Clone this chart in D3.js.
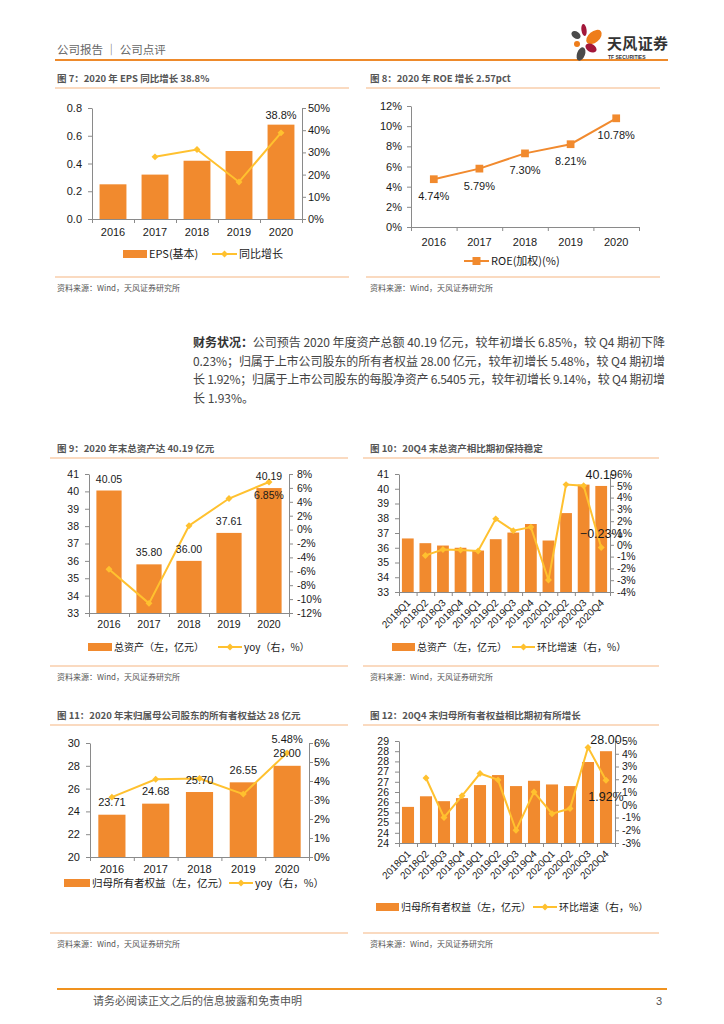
<!DOCTYPE html>
<html>
<head>
<meta charset="utf-8">
<script src="https://cdn.jsdelivr.net/npm/d3@7"></script>
<style>
  body { margin: 0; background: #fff; }
  svg { display: block; }
  text { font-family: "Liberation Sans", Arial, "Noto Sans CJK SC", sans-serif; }
  .cn { font-family: "Noto Sans CJK SC", "Liberation Sans", sans-serif; }
</style>
</head>
<body>
<svg id="page" width="724" height="1024"></svg>
<script>
// ---- data ----
const years = ["2016", "2017", "2018", "2019", "2020"];
const quarters = ["2018Q1", "2018Q2", "2018Q3", "2018Q4", "2019Q1", "2019Q2",
  "2019Q3", "2019Q4", "2020Q1", "2020Q2", "2020Q3", "2020Q4"];

// fig 7
const epsBasic = [0.25, 0.32, 0.42, 0.49, 0.68];
const epsYoy = [null, 28.0, 31.3, 16.7, 38.8];
const epsTicks = [0, 0.2, 0.4, 0.6, 0.8];
const epsTickLabels = ["0.0", "0.2", "0.4", "0.6", "0.8"];
const epsYoyTicks = [0, 10, 20, 30, 40, 50];
const epsYoyTickLabels = ["0%", "10%", "20%", "30%", "40%", "50%"];

// fig 8
const roeWeighted = [4.74, 5.79, 7.30, 8.21, 10.78];
const roeTicks = [0, 2, 4, 6, 8, 10, 12];
const roeTickLabels = ["0%", "2%", "4%", "6%", "8%", "10%", "12%"];

// fig 9
const assetsYear = [40.05, 35.80, 36.00, 37.61, 40.19];
const assetsYoy = [-5.7, -10.61, 0.56, 4.47, 6.85];
const assetsTicks = [33, 34, 35, 36, 37, 38, 39, 40, 41];
const assetsTickLabels = ["33", "34", "35", "36", "37", "38", "39", "40", "41"];
const assetsYoyTicks = [-12, -10, -8, -6, -4, -2, 0, 2, 4, 6, 8];
const assetsYoyTickLabels = ["-12%", "-10%", "-8%", "-6%", "-4%", "-2%", "0%", "2%", "4%", "6%", "8%"];

// fig 10
const assetsQ = [36.63, 36.31, 36.15, 36.00, 35.81, 36.58, 37.03, 37.61, 36.49, 38.35, 40.28, 40.19];
const assetsQoq = [null, -0.9, -0.4, -0.45, -0.53, 2.2, 1.2, 1.5, -2.98, 5.1, 5.0, -0.23];
const assetsQoqTicks = [-4, -3, -2, -1, 0, 1, 2, 3, 4, 5, 6];
const assetsQoqTickLabels = ["-4%", "-3%", "-2%", "-1%", "0%", "1%", "2%", "3%", "4%", "5%", "6%"];

// fig 11
const equityYear = [23.71, 24.68, 25.70, 26.55, 28.00];
const equityYoy = [3.15, 4.09, 4.13, 3.31, 5.48];
const equityTicks = [20, 22, 24, 26, 28, 30];
const equityTickLabels = ["20", "22", "24", "26", "28", "30"];
const equityYoyTicks = [0, 1, 2, 3, 4, 5, 6];
const equityYoyTickLabels = ["0%", "1%", "2%", "3%", "4%", "5%", "6%"];

// fig 12
const equityQ = [25.27, 25.79, 25.55, 25.70, 26.34, 26.83, 26.29, 26.55, 26.37, 26.29, 27.47, 28.00];
const equityQoq = [null, 2.1, -1.0, 0.7, 2.45, 1.95, -2.0, 1.0, -0.7, -0.3, 4.5, 1.92];
const equityQTicks = [23.5, 24, 24.5, 25, 25.5, 26, 26.5, 27, 27.5, 28, 28.5];
const equityQTickLabels = ["24", "24", "25", "25", "26", "26", "27", "27", "28", "28", "29"];
const equityQoqTicks = [-3, -2, -1, 0, 1, 2, 3, 4, 5];
const equityQoqTickLabels = ["-3%", "-2%", "-1%", "0%", "1%", "2%", "3%", "4%", "5%"];

// body text
const paraLines = [
  ["财务状况：", "公司预告 2020 年度资产总额 40.19 亿元，较年初增长 6.85%，较 Q4 期初下降"],
  ["", "0.23%；归属于上市公司股东的所有者权益 28.00 亿元，较年初增长 5.48%，较 Q4 期初增"],
  ["", "长 1.92%；归属于上市公司股东的每股净资产 6.5405 元，较年初增长 9.14%，较 Q4 期初增"],
  ["", "长 1.93%。"]
];

const ORANGE = "#F18A2E";
const GOLD = "#FFC12F";
const RULE = "#F6B582";
const AXIS = "#8a8a8a";
const TXT = "#1a1a1a";

const svg = d3.select("#page");
const f2 = d3.format(".2f");
const pct2 = (v) => f2(v) + "%";

function styleAxis(sel, size) {
  sel.select(".domain").attr("stroke", AXIS);
  sel.selectAll(".tick line").attr("stroke", AXIS);
  sel.selectAll(".tick text")
    .attr("fill", TXT)
    .attr("font-size", size)
    .attr("font-family", "Liberation Sans, Arial, sans-serif");
}

function legendBar(g, x1, x2, y, label, size) {
  g.append("rect").attr("x", x1).attr("y", y - 4).attr("width", x2 - x1).attr("height", 8).attr("fill", ORANGE);
  g.append("text").attr("class", "cn").attr("x", x2 + 2).attr("y", y + size * 0.36)
    .attr("font-size", size).attr("fill", TXT).text(label);
}

function legendLine(g, x1, x2, y, label, size, color, shape) {
  g.append("line").attr("x1", x1).attr("x2", x2).attr("y1", y).attr("y2", y)
    .attr("stroke", color).attr("stroke-width", 2);
  g.append("path")
    .attr("d", d3.symbol(d3.symbolSquare, shape === "square" ? 64 : 24)())
    .attr("transform", `translate(${(x1 + x2) / 2},${y}) rotate(${shape === "square" ? 0 : 45})`)
    .attr("fill", color);
  g.append("text").attr("class", "cn").attr("x", x2 + 2).attr("y", y + size * 0.36)
    .attr("font-size", size).attr("fill", TXT).text(label);
}

function comboChart(o) {
  const g = svg.append("g");
  const n = o.cats.length;
  const x = d3.scaleBand().domain(o.cats).range([o.left, o.right])
    .paddingInner(o.pad).paddingOuter(o.pad / 2);
  const yL = d3.scaleLinear().domain(o.lDomain).range([o.bottom, o.top]);
  const yR = d3.scaleLinear().domain(o.rDomain).range([o.bottom, o.top]);
  const cx = (i) => x(o.cats[i]) + x.bandwidth() / 2;

  g.selectAll(".bar").data(o.bars).join("rect")
    .attr("x", (d, i) => x(o.cats[i]))
    .attr("y", (d) => yL(d))
    .attr("width", x.bandwidth())
    .attr("height", (d) => o.bottom - yL(d))
    .attr("fill", ORANGE);

  const al = g.append("g").attr("transform", `translate(${o.left},0)`)
    .call(d3.axisLeft(yL).tickValues(o.lTicks).tickFormat((d, i) => o.lLabels[i])
      .tickSize(4).tickSizeOuter(0).tickPadding(6));
  styleAxis(al, o.tickFont);

  const ar = g.append("g").attr("transform", `translate(${o.right},0)`)
    .call(d3.axisRight(yR).tickValues(o.rTicks).tickFormat((d, i) => o.rLabels[i])
      .tickSize(4).tickSizeOuter(0).tickPadding(o.rPad));
  styleAxis(ar, o.tickFont);

  // x axis line with ticks between categories
  const xb = d3.scaleLinear().domain([0, n]).range([o.left, o.right]);
  const axb = g.append("g").attr("transform", `translate(0,${o.bottom})`)
    .call(d3.axisBottom(xb).tickValues(d3.range(n + 1)).tickFormat("").tickSize(4).tickSizeOuter(0));
  styleAxis(axb, o.tickFont);

  const xl = g.append("g").attr("transform", `translate(0,${o.bottom})`)
    .call(d3.axisBottom(x).tickSize(0).tickPadding(o.xPad));
  xl.select(".domain").remove();
  styleAxis(xl, o.xFont);
  if (o.rotate) {
    xl.selectAll(".tick text")
      .attr("y", 0).attr("dy", "0.35em")
      .attr("text-anchor", "end")
      .attr("transform", `translate(1,${o.xPad}) rotate(-45)`);
  }

  // growth line
  const pts = o.line.map((v, i) => ({ v, i })).filter((d) => d.v != null);
  g.append("path").datum(pts)
    .attr("fill", "none").attr("stroke", GOLD).attr("stroke-width", 2)
    .attr("d", d3.line().x((d) => cx(d.i)).y((d) => yR(d.v)));
  g.selectAll(".dm").data(pts).join("path")
    .attr("d", d3.symbol(d3.symbolSquare, 24)())
    .attr("transform", (d) => `translate(${cx(d.i)},${yR(d.v)}) rotate(45)`)
    .attr("fill", GOLD);

  o.notes.forEach((nt) => {
    const v = nt.s === "bar" ? o.bars[nt.i] : o.line[nt.i];
    const y = nt.s === "bar" ? yL(v) : yR(v);
    g.append("text").attr("x", cx(nt.i)).attr("y", y + nt.dy)
      .attr("text-anchor", "middle").attr("font-size", nt.size).attr("fill", TXT)
      .text(nt.fmt(v));
  });

  legendBar(g, o.legend.bar[0], o.legend.bar[1], o.legend.y, o.legend.barText, o.legend.size);
  legendLine(g, o.legend.line[0], o.legend.line[1], o.legend.y, o.legend.lineText, o.legend.size, GOLD, "diamond");
}

function figFrame(x, y, title, lx1, lx2, srcY) {
  svg.append("text").attr("class", "cn").attr("x", x).attr("y", y)
    .attr("font-size", 9.5).attr("font-weight", "bold").attr("fill", "#555").text(title);
  svg.append("line").attr("x1", lx1).attr("x2", lx2).attr("y1", y + 6).attr("y2", y + 6)
    .attr("stroke", RULE).attr("stroke-width", 1.2);
  svg.append("line").attr("x1", lx1).attr("x2", lx2).attr("y1", srcY).attr("y2", srcY)
    .attr("stroke", RULE).attr("stroke-width", 1.2);
  svg.append("text").attr("class", "cn").attr("x", x).attr("y", srcY + 14)
    .attr("font-size", 8).attr("fill", "#555").text("资料来源：Wind，天风证券研究所");
}

// ---- page header ----
svg.append("text").attr("class", "cn").attr("x", 57).attr("y", 54)
  .attr("font-size", 11.5).attr("fill", "#666").text("公司报告 ｜ 公司点评");
svg.append("line").attr("x1", 55).attr("x2", 668).attr("y1", 60).attr("y2", 60)
  .attr("stroke", "#EE8A2B").attr("stroke-width", 2);

const logo = svg.append("g");
logo.append("ellipse").attr("cx", 584).attr("cy", 30).attr("rx", 2.6).attr("ry", 6)
  .attr("transform", "rotate(-8,584,30)").attr("fill", "#A3173A");
logo.append("ellipse").attr("cx", 594).attr("cy", 37).attr("rx", 9).attr("ry", 5.5)
  .attr("transform", "rotate(-40,594,37)").attr("fill", "#EE7D1A");
logo.append("ellipse").attr("cx", 576).attr("cy", 35).attr("rx", 5).attr("ry", 3.5)
  .attr("transform", "rotate(35,576,35)").attr("fill", "#4a4a4a");
logo.append("circle").attr("cx", 577).attr("cy", 44).attr("r", 3).attr("fill", "#EE7D1A");
logo.append("ellipse").attr("cx", 591).attr("cy", 48).attr("rx", 6).attr("ry", 4)
  .attr("transform", "rotate(30,591,48)").attr("fill", "#A3173A");
logo.append("ellipse").attr("cx", 581).attr("cy", 54).attr("rx", 4).attr("ry", 7)
  .attr("transform", "rotate(20,581,54)").attr("fill", "#4a4a4a");
logo.append("text").attr("class", "cn").attr("x", 607).attr("y", 49)
  .attr("font-size", 15).attr("font-weight", "bold").attr("fill", "#333")
  .attr("textLength", 61).text("天风证券");
logo.append("text").attr("x", 608).attr("y", 58.5).attr("font-size", 5)
  .attr("font-weight", "bold").attr("fill", "#333").text("TF SECURITIES");

// ---- fig 7 ----
figFrame(57, 82, "图 7：2020 年 EPS 同比增长 38.8%", 55, 349, 277);
comboChart({
  cats: years, bars: epsBasic, line: epsYoy,
  left: 92, right: 302, top: 108, bottom: 219, pad: 0.36,
  lDomain: [0, 0.8], lTicks: epsTicks, lLabels: epsTickLabels,
  rDomain: [0, 50], rTicks: epsYoyTicks, rLabels: epsYoyTickLabels, rPad: 2,
  tickFont: 11, xFont: 11, xPad: 9,
  notes: [{ s: "line", i: 4, dy: -14, size: 11, fmt: (v) => d3.format(".1f")(v) + "%" }],
  legend: { y: 254, size: 11, bar: [123, 147], barText: "EPS(基本)", line: [212, 237], lineText: "同比增长" }
});

// ---- fig 8 ----
figFrame(370, 82, "图 8：2020 年 ROE 增长 2.57pct", 366, 660, 277);
(function () {
  const g = svg.append("g");
  const left = 411, right = 639, top = 106, bottom = 227;
  const n = years.length;
  const x = d3.scaleBand().domain(years).range([left, right]);
  const y = d3.scaleLinear().domain([0, 12]).range([bottom, top]);
  const cx = (i) => x(years[i]) + x.bandwidth() / 2;

  const al = g.append("g").attr("transform", `translate(${left},0)`)
    .call(d3.axisLeft(y).tickValues(roeTicks).tickFormat((d, i) => roeTickLabels[i])
      .tickSize(4).tickSizeOuter(0).tickPadding(5));
  styleAxis(al, 11);
  const xb = d3.scaleLinear().domain([0, n]).range([left, right]);
  const axb = g.append("g").attr("transform", `translate(0,${bottom})`)
    .call(d3.axisBottom(xb).tickValues(d3.range(n + 1)).tickFormat("").tickSize(4).tickSizeOuter(0));
  styleAxis(axb, 11);
  const xl = g.append("g").attr("transform", `translate(0,${bottom})`)
    .call(d3.axisBottom(x).tickSize(0).tickPadding(11));
  xl.select(".domain").remove();
  styleAxis(xl, 11);

  g.append("path").datum(roeWeighted)
    .attr("fill", "none").attr("stroke", ORANGE).attr("stroke-width", 2)
    .attr("d", d3.line().x((d, i) => cx(i)).y((d) => y(d)));
  g.selectAll(".sq").data(roeWeighted).join("path")
    .attr("d", d3.symbol(d3.symbolSquare, 60)())
    .attr("transform", (d, i) => `translate(${cx(i)},${y(d)})`)
    .attr("fill", ORANGE);
  g.selectAll(".lbl").data(roeWeighted).join("text")
    .attr("x", (d, i) => cx(i)).attr("y", (d) => y(d) + 21)
    .attr("text-anchor", "middle").attr("font-size", 11).attr("fill", TXT)
    .text(pct2);

  legendLine(g, 464, 489, 261, "ROE(加权)(%)", 11, ORANGE, "square");
})();

// ---- body paragraph ----
paraLines.forEach((ln, i) => {
  const t = svg.append("text").attr("class", "cn").attr("x", 193).attr("y", 347 + i * 18.5)
    .attr("font-size", 12).attr("fill", "#444");
  if (i < 3) t.attr("textLength", 472).attr("lengthAdjust", "spacing");
  if (ln[0]) t.append("tspan").attr("font-weight", "bold").attr("fill", "#333").text(ln[0]);
  t.append("tspan").text(ln[1]);
});

// ---- fig 9 ----
figFrame(57, 452, "图 9：2020 年末总资产达 40.19 亿元", 50, 348, 666);
comboChart({
  cats: years, bars: assetsYear, line: assetsYoy,
  left: 89, right: 289, top: 474, bottom: 613, pad: 0.37,
  lDomain: [33, 41], lTicks: assetsTicks, lLabels: assetsTickLabels,
  rDomain: [-12, 8], rTicks: assetsYoyTicks, rLabels: assetsYoyTickLabels, rPad: 4,
  tickFont: 10.5, xFont: 10.5, xPad: 8,
  notes: years.map((d, i) => ({ s: "bar", i, dy: -8, size: 10.5, fmt: f2 }))
    .concat([{ s: "line", i: 4, dy: 17.5, size: 10.5, fmt: pct2 }]),
  legend: { y: 647, size: 10, bar: [88, 112], barText: "总资产（左，亿元）", line: [218, 242], lineText: "yoy（右，%）" }
});

// ---- fig 10 ----
figFrame(370, 452, "图 10：20Q4 末总资产相比期初保持稳定", 363, 659, 666);
comboChart({
  cats: quarters, bars: assetsQ, line: assetsQoq,
  left: 399, right: 610, top: 474, bottom: 592, pad: 0.33,
  lDomain: [33, 41], lTicks: assetsTicks, lLabels: assetsTickLabels,
  rDomain: [-4, 6], rTicks: assetsQoqTicks, rLabels: assetsQoqTickLabels, rPad: 3,
  tickFont: 10.5, xFont: 10, xPad: 9, rotate: true,
  notes: [
    { s: "bar", i: 11, dy: -6.5, size: 12.5, fmt: f2 },
    { s: "line", i: 11, dy: -9.5, size: 12.5, fmt: pct2 }
  ],
  legend: { y: 647, size: 10, bar: [392, 415], barText: "总资产（左，亿元）", line: [512, 535], lineText: "环比增速（右，%）" }
});

// ---- fig 11 ----
figFrame(57, 719, "图 11：2020 年末归属母公司股东的所有者权益达 28 亿元", 50, 348, 933);
comboChart({
  cats: years, bars: equityYear, line: equityYoy,
  left: 90, right: 309, top: 743, bottom: 857, pad: 0.38,
  lDomain: [20, 30], lTicks: equityTicks, lLabels: equityTickLabels,
  rDomain: [0, 6], rTicks: equityYoyTicks, rLabels: equityYoyTickLabels, rPad: 1,
  tickFont: 11, xFont: 11, xPad: 8,
  notes: years.map((d, i) => ({ s: "bar", i, dy: -8.5, size: 11, fmt: f2 }))
    .concat([{ s: "line", i: 4, dy: -10, size: 11, fmt: pct2 }]),
  legend: { y: 883, size: 10.5, bar: [64, 90], barText: "归母所有者权益（左，亿元）", line: [229, 253], lineText: "yoy（右，%）" }
});

// ---- fig 12 ----
figFrame(370, 719, "图 12：20Q4 末归母所有者权益相比期初有所增长", 363, 659, 933);
comboChart({
  cats: quarters, bars: equityQ, line: equityQoq,
  left: 399, right: 615, top: 741, bottom: 843, pad: 0.33,
  lDomain: [23.5, 28.5], lTicks: equityQTicks, lLabels: equityQTickLabels,
  rDomain: [-3, 5], rTicks: equityQoqTicks, rLabels: equityQoqTickLabels, rPad: 3,
  tickFont: 10.5, xFont: 10, xPad: 9, rotate: true,
  notes: [
    { s: "bar", i: 11, dy: -7.5, size: 12.5, fmt: f2 },
    { s: "line", i: 11, dy: 20.5, size: 12.5, fmt: pct2 }
  ],
  legend: { y: 907, size: 10, bar: [376, 399], barText: "归母所有者权益（左，亿元）", line: [533, 557], lineText: "环比增速（右，%）" }
});

// ---- footer ----
svg.append("line").attr("x1", 57).attr("x2", 667).attr("y1", 989).attr("y2", 989)
  .attr("stroke", "#F0921E").attr("stroke-width", 2);
svg.append("text").attr("class", "cn").attr("x", 93).attr("y", 1005)
  .attr("font-size", 11).attr("fill", "#555").text("请务必阅读正文之后的信息披露和免责申明");
svg.append("text").attr("x", 662).attr("y", 1005).attr("text-anchor", "end")
  .attr("font-size", 11).attr("fill", "#555").text("3");
</script>
</body>
</html>
